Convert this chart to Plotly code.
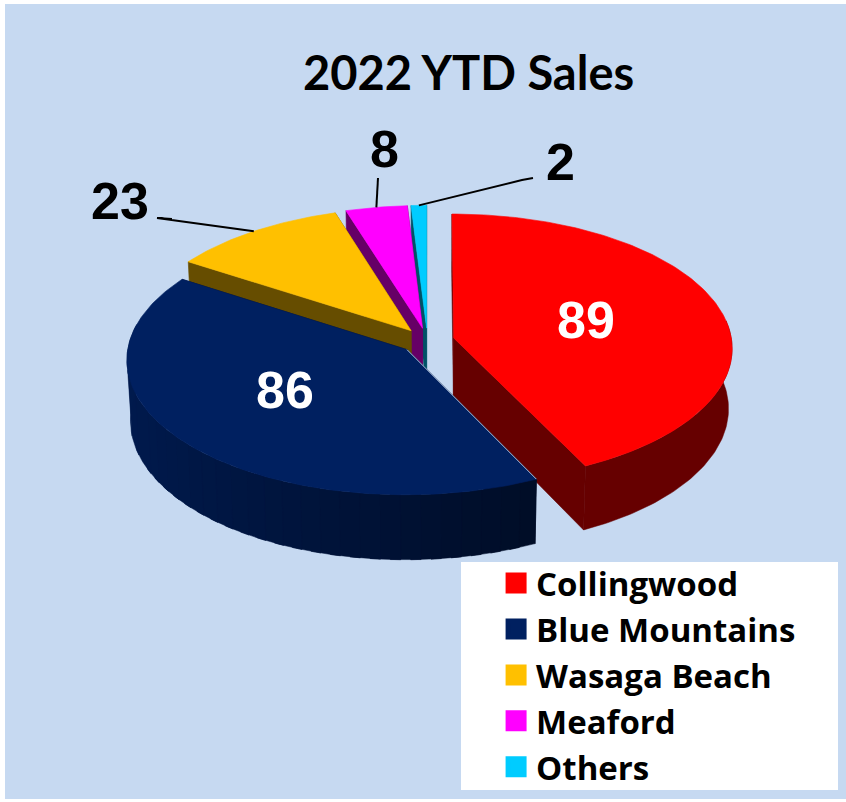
import math
import plotly.graph_objects as go

# ---- data ----
CATEGORIES = ["Collingwood", "Blue Mountains", "Wasaga Beach", "Meaford", "Others"]
VALUES = [89, 86, 23, 8, 2]
COLORS = ["#FF0000", "#002060", "#FFC000", "#FF00FF", "#00CCFF"]
TITLE = "2022 YTD Sales"

# ---- styles / layout ----
W, H = 846, 802
BG = "#C6D9F1"
CX, CY = 427.4, 341.0      # pie centre in the page
RX, RY = 278.0, 133.4      # disc radii
PERSP = 0.072              # perspective strength
DEPTH = 60.0               # thickness of the pie
TAPER = 0.012              # lower rim draws in slightly
EXPLODE = 0.0974           # explosion of the slices
DRAW_ORDER = [4, 3, 2, 0, 1]
INSIDE_LABEL = {0: (586, 320), 1: (285, 390)}
OUTSIDE_LABEL = {2: (120, 201), 3: (384, 149), 4: (560, 162)}
LEADER_BEND = {2: [(172, 219), (157, 218)], 3: [(378, 178)], 4: [(533, 178), (522, 180)]}
LABEL_FONT = "Liberation Sans"
TEXT_FONT = "Lato"
LEGEND_FONT = "Open Sans"


def hexrgb(c):
    return tuple(int(c[i:i + 2], 16) for i in (1, 3, 5))


def shaded(c, f):
    r, g, b = hexrgb(c)
    return f"rgb({round(r * f)},{round(g * f)},{round(b * f)})"


def proj(X, Y, z=0.0):
    s = 1 / (1 + PERSP * Y)
    return CX + RX * X * s * (1 - TAPER * z), CY - RY * Y * s + DEPTH * s * z


def wedge_geometry():
    total = sum(VALUES)
    out, a = [], 0.0
    for v in VALUES:
        b = a + 360.0 * v / total
        out.append((a, b))
        a = b
    return out


def poly(pts, color, line=0.6):
    xs = [p[0] for p in pts]
    ys = [p[1] for p in pts]
    return go.Scatter(
        x=xs + xs[:1], y=ys + ys[:1], mode="lines", fill="toself", fillcolor=color,
        line=dict(color=color, width=line), hoverinfo="skip", showlegend=False,
    )


def unit(deg):
    t = math.radians(deg)
    return math.sin(t), math.cos(t)


def rim_shade(sx):
    return 0.4 + 0.4 * max(0.0, (0.44 - sx) / 1.44)


fig = go.Figure()
angles = wedge_geometry()

for i in DRAW_ORDER:
    a, b = angles[i]
    col = COLORS[i]
    mx, my = unit((a + b) / 2)
    ox, oy = EXPLODE * mx, EXPLODE * my

    # cut faces
    for edge in (a, b):
        ex, ey = unit(edge)
        fig.add_trace(poly([proj(ox, oy), proj(ox + ex, oy + ey),
                            proj(ox + ex, oy + ey, 1), proj(ox, oy, 1)], shaded(col, 0.4)))

    # outer rim, in bands shaded by direction; equal shades are merged, each band overlaps the next
    n = max(1, math.ceil((b - a) / 4))
    runs = []
    for k in range(n):
        t0 = a + (b - a) * k / n
        t1 = a + (b - a) * (k + 1) / n
        sx, sy = unit((t0 + t1) / 2)
        if sy > 0.15:
            continue
        c = shaded(col, rim_shade(sx))
        if runs and runs[-1][2] == c:
            runs[-1][1] = t1
        else:
            runs.append([t0, t1, c])
    for t0, t1, c in runs:
        t1x = min(b, t1 + 1.5)
        t0x = max(a, t0 - 0.5)
        m = max(3, math.ceil(t1x - t0x))
        steps = [t0x + (t1x - t0x) * j / m for j in range(m + 1)]
        top = [proj(ox + unit(t)[0], oy + unit(t)[1]) for t in steps]
        bot = [proj(ox + unit(t)[0], oy + unit(t)[1], 1) for t in reversed(steps)]
        fig.add_trace(poly(top + bot, c, line=0.5))

    # top face
    n = max(4, math.ceil(b - a))
    pts = [proj(ox, oy)]
    for k in range(n + 1):
        ux, uy = unit(a + (b - a) * k / n)
        pts.append(proj(ox + ux, oy + uy))
    fig.add_trace(poly(pts, col))

    # faint bright edge where the navy slice meets the red slice
    if i == 1:
        ex, ey = unit(a)
        tip = proj(ox, oy)
        corner = proj(ox + ex, oy + ey)
        fig.add_trace(go.Scatter(
            x=[tip[0], corner[0]], y=[tip[1], corner[1]], mode="lines",
            line=dict(color=BG, width=0.9), hoverinfo="skip", showlegend=False,
        ))

# leader lines, anchored on the rim at each slice's middle angle
for i, bend in LEADER_BEND.items():
    a, b = angles[i]
    mx, my = unit((a + b) / 2)
    anchor = proj(mx * (1 + EXPLODE), my * (1 + EXPLODE))
    path = bend + [anchor]
    fig.add_trace(go.Scatter(
        x=[p[0] for p in path], y=[p[1] for p in path], mode="lines",
        line=dict(color="black", width=2), hoverinfo="skip", showlegend=False,
    ))

# legend entries
for name, col in zip(CATEGORIES, COLORS):
    fig.add_trace(go.Scatter(
        x=[None], y=[None], mode="markers", name=name,
        marker=dict(symbol="square", size=16, color=col, line=dict(color=col, width=5)),
    ))

annotations = []
for i, (x, y) in INSIDE_LABEL.items():
    annotations.append(dict(x=x, y=y, text=f"<b>{VALUES[i]}</b>", showarrow=False, xref="x", yref="y",
                            font=dict(family=LABEL_FONT, size=52, color="white")))
for i, (x, y) in OUTSIDE_LABEL.items():
    annotations.append(dict(x=x, y=y, text=f"<b>{VALUES[i]}</b>", showarrow=False, xref="x", yref="y",
                            font=dict(family=LABEL_FONT, size=52, color="black")))
annotations.append(dict(x=468, y=72, xref="x", yref="y", text=f"<b>{TITLE}</b>", showarrow=False,
                        font=dict(family=TEXT_FONT, size=47, color="black")))

fig.update_layout(
    width=W, height=H,
    margin=dict(l=5, r=0, t=4, b=3, autoexpand=False),
    paper_bgcolor="white", plot_bgcolor=BG,
    xaxis=dict(range=[5, W], visible=False, fixedrange=True),
    yaxis=dict(range=[H - 3, 4], visible=False, fixedrange=True),
    annotations=annotations,
    shapes=[dict(type="rect", xref="x", yref="y", x0=461, x1=838, y0=562, y1=790,
                 fillcolor="white", line=dict(width=0), layer="below")],
    showlegend=True,
    legend=dict(x=494 / W, y=1 - 556 / H, xanchor="left", yanchor="top",
                bgcolor="rgba(0,0,0,0)", borderwidth=0, itemclick=False, itemdoubleclick=False,
                font=dict(family=LEGEND_FONT, size=33, color="black", weight="bold")),
)
fig.write_html("out.html", config={"displayModeBar": False},
               post_script="document.body.style.margin='0';document.body.style.overflow='hidden';")
